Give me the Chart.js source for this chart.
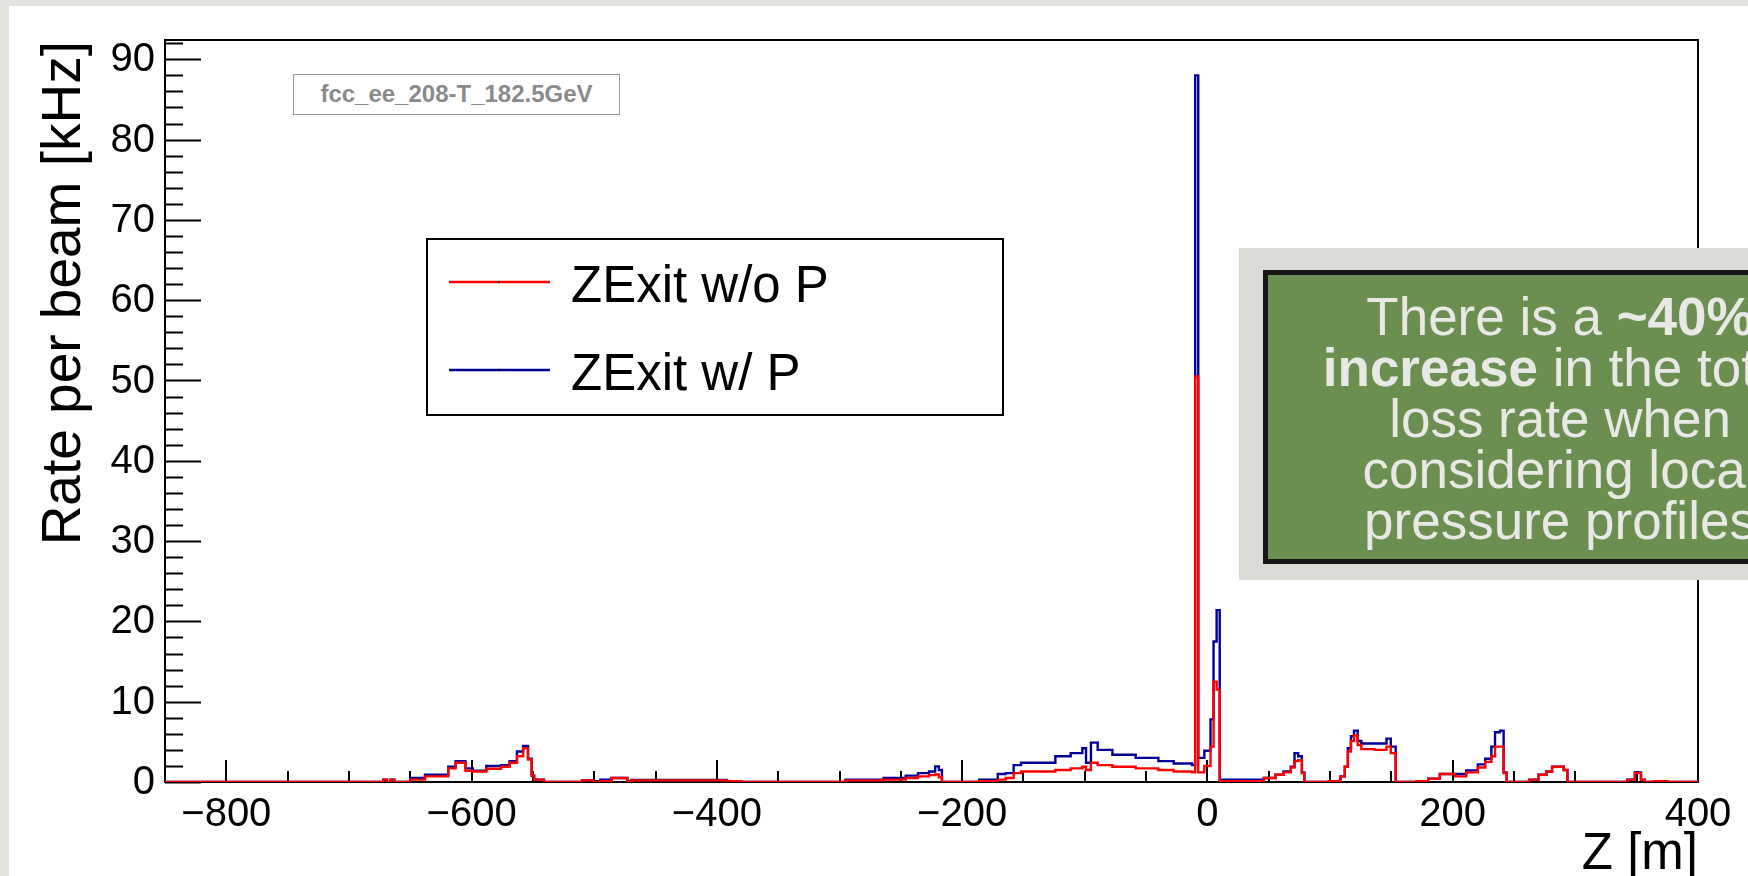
<!DOCTYPE html>
<html>
<head>
<meta charset="utf-8">
<script src="https://cdn.jsdelivr.net/npm/chart.js@4.4.1/dist/chart.umd.min.js"></script>
<style>
  html, body { margin: 0; padding: 0; width: 1748px; height: 876px; overflow: hidden; background: #e4e3de; }
  #slide { position: absolute; left: 9px; top: 6px; right: 0; bottom: 0; background: #fff; }
  #chart { position: absolute; left: 0; top: 0; }
  #tag {
    position: absolute; left: 293px; top: 74px; width: 327px; height: 41px; box-sizing: border-box;
    border: 1.5px solid #9a9a9a; background: #fff; color: #8a8a8a;
    font: bold 24px "Liberation Sans", Arial, sans-serif; line-height: 38px; text-align: center;
  }
  #noteBack { position: absolute; left: 1239px; top: 248px; width: 620px; height: 332px; background: #dcdbd5; }
  #note {
    position: absolute; left: 1263px; top: 270px; width: 594px; height: 294px; box-sizing: border-box;
    background: #6a8f50; border: 5px solid #161616; padding-top: 16px;
    color: #e8e8e4; font: 53px/51px "Liberation Sans", Arial, sans-serif; text-align: center; white-space: nowrap;
  }
</style>
</head>
<body>
<div id="slide"></div>
<canvas id="chart" width="1748" height="876"></canvas>
<div id="tag">fcc_ee_208-T_182.5GeV</div>
<div id="noteBack"></div>
<div id="note">There is a <b>~40%</b><br><b>increase</b> in the total<br>loss rate when<br>considering local<br>pressure profiles</div>
<script>
// histogram steps: left edge of each step [m], last step ends at zEnd
const zEdges = [
  -850, -672, -669, -666, -663, -650, -638, -619, -613, -605, -599, -588, -576, -569, -563, -558, -554, -551, -549, -541,
  -510, -501, -495, -486, -473, -470, -392, -380,
  -295, -264, -246, -236, -227, -222, -219, -216.5,
  -186, -171, -164.5, -158, -152, -124, -111.5, -102, -99, -95, -89.5, -77.5, -58.5, -40, -27.5, -12.5,
  -10, -7.5, -2.5, 2.5, 5, 7.5, 10,
  46, 55.5, 62, 68, 71, 74, 77, 79,
  99, 108.5, 112, 114.5, 117, 119.5, 122.5, 125.5, 136.5, 146, 149.5, 153.5,
  170.5, 180, 189.5, 202, 211, 220.5, 226.5, 231.5, 234.5, 238.5, 241.5, 244,
  262.5, 270, 276.5, 281, 290.5, 293.5,
  342.5, 348.5, 353.5, 356.5, 364, 375
];
const zEnd = 400;

// ZExit w/o P (red)
const rateNoP = [
  0, 0.3, 0, 0.3, 0, 0.3, 0.7, 1.7, 2.4, 1.4, 1.3, 1.65, 1.9, 2.4, 3.2, 4.2, 2.8, 0.8, 0.3, 0,
  0.2, 0, 0.1, 0.5, 0, 0.2, 0.1, 0,
  0.2, 0.3, 0.5, 0.7, 0.85, 0.95, 0.6, 0,
  0.1, 0.3, 0.5, 1.1, 1.3, 1.5, 1.7, 1.9, 1.5, 2.4, 2.1, 1.9, 1.7, 1.5, 1.3, 1.2,
  50.5, 1.2, 2.0, 4.4, 12.5, 11.5, 0.1,
  0.5, 0.9, 1.2, 1.8, 2.6, 2.7, 1.1, 0,
  0.1, 0.7, 1.9, 3.8, 5.1, 5.8, 4.6, 4.1, 4.0, 4.4, 3.6, 0,
  0.1, 0.4, 1.0, 0.7, 1.2, 1.8, 2.5, 3.2, 4.4, 4.4, 1.1, 0,
  0.3, 0.9, 1.3, 1.9, 1.5, 0,
  0.3, 1.1, 0.3, 0, 0.1, 0
];

// ZExit w/ P (blue)
const rateWithP = [
  0, 0.3, 0, 0.3, 0, 0.5, 0.9, 1.9, 2.6, 1.7, 1.4, 2.0, 2.1, 2.6, 3.8, 4.5, 2.9, 0.8, 0.3, 0,
  0.2, 0.1, 0.3, 0.5, 0.1, 0.25, 0.1, 0,
  0.28, 0.5, 0.8, 1.1, 1.3, 1.95, 1.5, 0,
  0.3, 1.0, 1.1, 2.1, 2.4, 3.2, 3.6, 4.2, 2.4, 4.9, 4.0, 3.4, 3.0, 2.6, 2.3, 2.1,
  88, 3.0, 3.9, 7.8, 17.5, 21.4, 0.3,
  0.5, 0.9, 1.3, 1.9, 3.6, 3.2, 1.2, 0,
  0.1, 0.7, 1.9, 4.2, 5.7, 6.4, 5.1, 4.8, 4.8, 5.4, 4.4, 0,
  0.1, 0.4, 1.0, 1.0, 1.45, 2.2, 2.9, 4.4, 6.2, 6.4, 1.2, 0,
  0.3, 0.9, 1.3, 1.9, 1.5, 0,
  0.3, 1.2, 0.3, 0, 0.1, 0
];

const xTickLabels = [-800, -600, -400, -200, 0, 200, 400];
const yTickLabels = [0, 10, 20, 30, 40, 50, 60, 70, 80, 90];
const xMinorStep = 50;
const yMinorStep = 2;

const FONT = '"Liberation Sans", Arial, sans-serif';

function steps(vals) {
  const pts = zEdges.map((z, i) => ({ x: z, y: vals[i] }));
  pts.push({ x: zEnd, y: vals[vals.length - 1] });
  return pts;
}
function fmt(v) {
  return v < 0 ? '\u2212' + Math.abs(v) : String(v);
}

// ROOT-like frame with inward ticks and labels
const frameTicks = {
  id: 'frameTicks',
  beforeDatasetsDraw(chart) {
    const { ctx, chartArea: a, scales: { x, y } } = chart;
    ctx.save();
    ctx.strokeStyle = '#000';
    ctx.lineWidth = 2;
    ctx.strokeRect(a.left, a.top, a.right - a.left, a.bottom - a.top);
    ctx.beginPath();
    for (let v = 0; v <= y.max; v += yMinorStep) {
      const py = Math.round(y.getPixelForValue(v)) + 0.5;
      const len = v % 10 === 0 ? 36 : 18;
      ctx.moveTo(a.left, py); ctx.lineTo(a.left + len, py);
    }
    for (let v = -800; v < x.max; v += xMinorStep) {
      const px = Math.round(x.getPixelForValue(v));
      const len = xTickLabels.includes(v) ? 22 : 11;
      ctx.moveTo(px, a.bottom); ctx.lineTo(px, a.bottom - len);
    }
    ctx.stroke();

    ctx.fillStyle = '#000';
    ctx.font = '40px ' + FONT;
    ctx.textAlign = 'right';
    ctx.textBaseline = 'middle';
    yTickLabels.forEach(v => ctx.fillText(fmt(v), a.left - 10, y.getPixelForValue(v) + 1));
    ctx.textAlign = 'center';
    ctx.textBaseline = 'alphabetic';
    xTickLabels.forEach(v => ctx.fillText(fmt(v), x.getPixelForValue(v), 826));
    ctx.restore();
  }
};

// axis titles and legend box
const extras = {
  id: 'extras',
  afterDraw(chart) {
    const { ctx, chartArea: a } = chart;
    ctx.save();
    ctx.fillStyle = '#000';
    ctx.textBaseline = 'alphabetic';
    ctx.textAlign = 'right';
    ctx.font = '51px ' + FONT;
    ctx.fillText('Z [m]', a.right, 869);
    ctx.save();
    ctx.font = '55px ' + FONT;
    ctx.translate(80, a.top + 1);
    ctx.rotate(-Math.PI / 2);
    ctx.fillText('Rate per beam [kHz]', 0, 0);
    ctx.restore();

    // legend
    ctx.font = '51px ' + FONT;
    ctx.fillStyle = '#fff';
    ctx.fillRect(427, 239, 576, 176);
    ctx.strokeStyle = '#000';
    ctx.lineWidth = 2;
    ctx.strokeRect(427, 239, 576, 176);
    ctx.textAlign = 'left';
    chart.data.datasets.forEach((ds, i) => {
      const ly = 282 + i * 88;
      ctx.strokeStyle = ds.borderColor;
      ctx.lineWidth = 2.5;
      ctx.beginPath(); ctx.moveTo(449, ly); ctx.lineTo(550, ly); ctx.stroke();
      ctx.fillStyle = '#000';
      ctx.fillRect(498, ly - 1, 2, 2);
      ctx.fillText(ds.label, 571, ly + 20);
    });
    ctx.restore();
  }
};

new Chart(document.getElementById('chart'), {
  type: 'line',
  data: {
    datasets: [
      { label: 'ZExit w/o P', data: steps(rateNoP), borderColor: '#ff0000', borderWidth: 2.4, stepped: 'before', pointRadius: 0, fill: false },
      { label: 'ZExit w/ P', data: steps(rateWithP), borderColor: '#000099', borderWidth: 2.4, stepped: 'before', pointRadius: 0, fill: false }
    ]
  },
  options: {
    responsive: false,
    animation: false,
    layout: { padding: { left: 0, top: 40, right: 50, bottom: 0 } },
    plugins: { legend: { display: false }, tooltip: { enabled: false } },
    scales: {
      x: {
        type: 'linear', min: -850, max: 400,
        afterFit: s => { s.height = 94; },
        grid: { display: false, drawTicks: false },
        border: { display: false },
        ticks: { display: false }
      },
      y: {
        type: 'linear', min: 0, max: 92.4,
        afterFit: s => { s.width = 165; },
        grid: { display: false, drawTicks: false },
        border: { display: false },
        ticks: { display: false }
      }
    }
  },
  plugins: [frameTicks, extras]
});
</script>
</body>
</html>
